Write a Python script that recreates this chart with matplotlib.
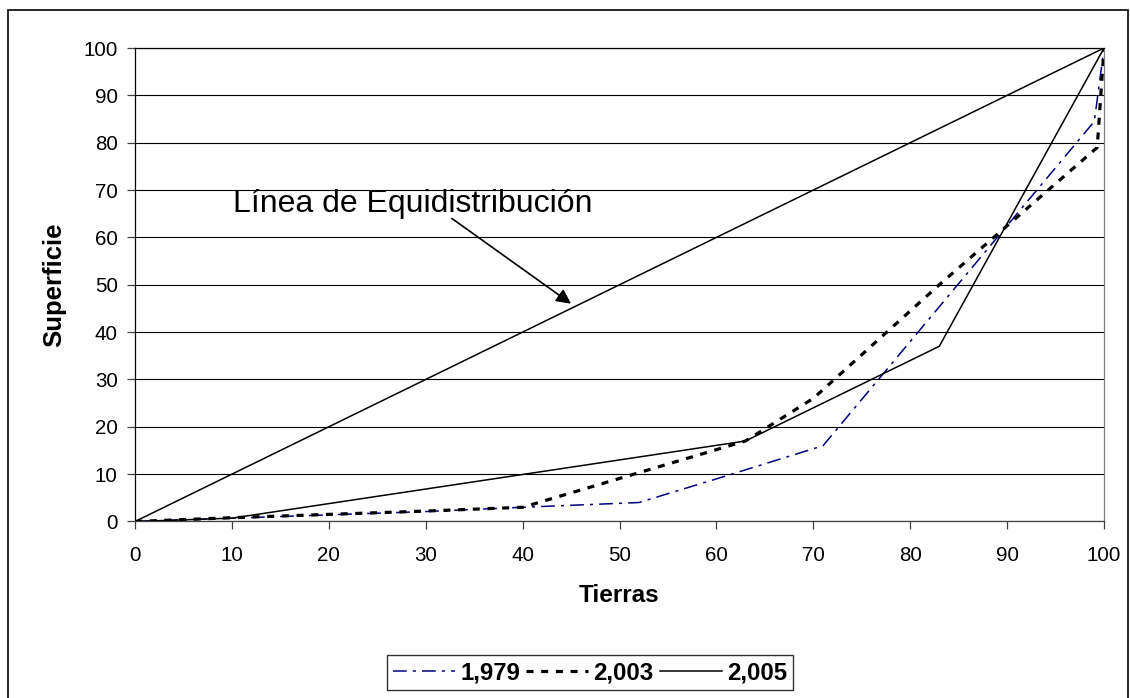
import matplotlib
matplotlib.use('Agg')
import matplotlib.pyplot as plt
from matplotlib.patches import Rectangle

# ---------------------------------- DATA ----------------------------------
x_equi = [0, 100]
y_equi = [0, 100]

x_1979 = [0, 10, 20, 30, 40, 52, 60, 71, 99, 100]
y_1979 = [0, 0.7, 1.4, 2.1, 3.0, 4.0, 9.0, 16.0, 84.5, 100]

x_2003 = [0, 10, 20, 30, 40, 63, 70, 83, 99.3, 100]
y_2003 = [0, 0.8, 1.5, 2.2, 3.0, 17, 26, 50, 79, 100]

x_2005 = [0, 10, 63, 83, 100]
y_2005 = [0, 0.7, 17, 37, 100]

series_labels = ['1,979', '2,003', '2,005']
ticks = list(range(0, 101, 10))
annot_text = 'Línea de Equidistribución'

# --------------------------------- FIGURE ---------------------------------
plt.rcParams['font.family'] = ['Liberation Sans', 'DejaVu Sans']
fig = plt.figure(figsize=(11.3, 6.98), dpi=100)
ax = fig.add_axes([0.1195, 0.2529, 0.8575, 0.6783])

ax.grid(axis='y', color='black', lw=0.8, zorder=0)
ax.set_axisbelow(True)

ax.plot(x_1979, y_1979, color='#000080', lw=1.1, dashes=(9, 4, 2, 4), label=series_labels[0], zorder=3)
ax.plot(x_2003, y_2003, color='black', lw=2.3, dashes=(2.2, 2.4), label=series_labels[1], zorder=3)
ax.plot(x_2005, y_2005, color='black', lw=1.1, label=series_labels[2], zorder=4)
ax.plot(x_equi, y_equi, color='black', lw=1.1, zorder=4)

ax.text(10.1, 65.3, annot_text, fontsize=23, ha='left', va='baseline')
ax.annotate('', xy=(45, 46), xytext=(32.7, 64),
            arrowprops=dict(arrowstyle='-|>', mutation_scale=22, lw=1.2, color='black',
                            shrinkA=0, shrinkB=0))

ax.set_xlim(0, 100)
ax.set_ylim(0, 100)
ax.set_xticks(ticks)
ax.set_yticks(ticks)
ax.tick_params(axis='both', direction='out', length=5.5, width=0.9, labelsize=14.8, color='#404040')
ax.tick_params(axis='x', pad=12)
ax.tick_params(axis='y', pad=7)

ax.spines['left'].set_color('black')
ax.spines['bottom'].set_color('#404040')
ax.spines['right'].set_color('#808080')
ax.spines['top'].set_color('black')
for s in ax.spines.values():
    s.set_linewidth(0.9)

ax.set_xlabel('Tierras', fontsize=17.5, fontweight='bold', labelpad=14)
ax.set_ylabel('Superficie', fontsize=18.5, fontweight='bold', labelpad=12)

leg = fig.legend(loc='center', bbox_to_anchor=(0.522, 0.036), ncol=3, frameon=True, fancybox=False,
                 prop={'weight': 'bold', 'size': 17.3}, handlelength=2.6, handletextpad=0.2,
                 columnspacing=0.25, borderpad=0.25, borderaxespad=0)
leg.get_frame().set_edgecolor('black')
leg.get_frame().set_linewidth(1.0)

# outer chart frame
fig.patches.append(Rectangle((8 / 1130, -0.05), 1120 / 1130, 1 - 10 / 698 + 0.05,
                             transform=fig.transFigure, fill=False, ec='black', lw=1.2))

fig.savefig('out.png', dpi=100)
